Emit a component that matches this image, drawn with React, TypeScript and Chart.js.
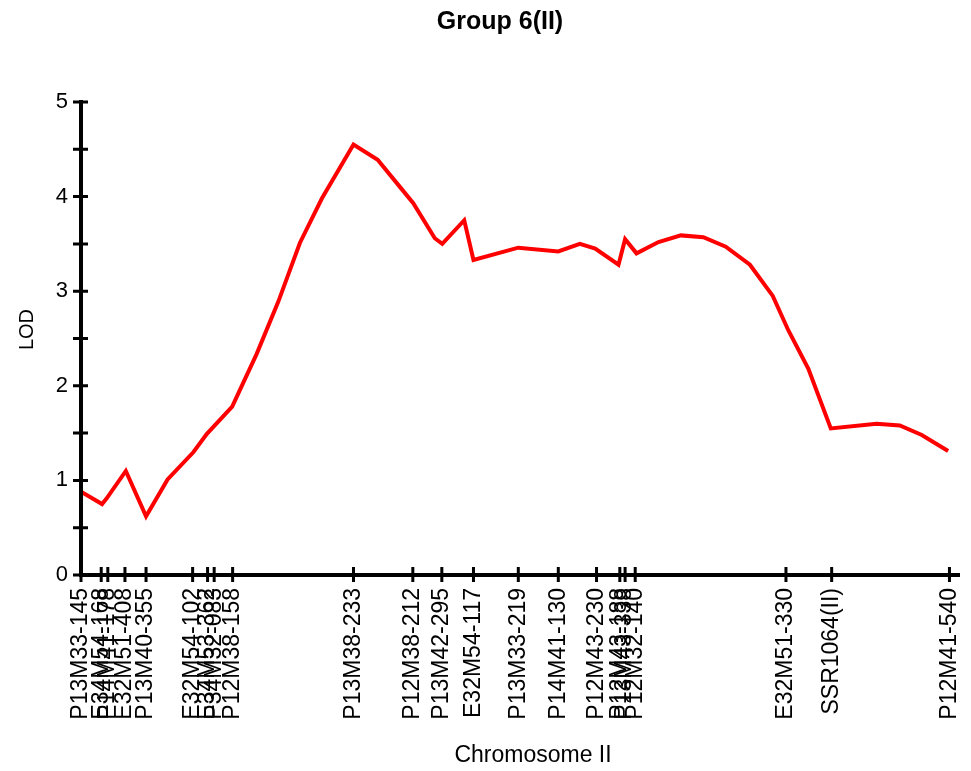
import React, { useEffect, useRef } from 'react';
import { Chart, registerables } from 'chart.js';

Chart.register(...registerables);

const chartTitle = 'Group 6(II)';
const xTitle = 'Chromosome II';
const yTitle = 'LOD';

const markerNames = [
  'P13M33-145', 'E34M54-168', 'P14M41-178', 'E32M51-408', 'P13M40-355',
  'E32M54-102', 'E34M53-362', 'P34M32-083', 'P12M38-158', 'P13M38-233',
  'P12M38-212', 'P13M42-295', 'E32M54-117', 'P13M33-219', 'P14M41-130',
  'P12M43-230', 'P12M43-188', 'P13M43-338', 'P12M32-140', 'E32M51-330',
  'SSR1064(II)', 'P12M41-540',
];
const markerPositions = [
  0, 4.6, 6.1, 10.0, 14.8,
  25.4, 28.8, 30.3, 34.5, 62.0,
  75.5, 82.1, 89.3, 99.5, 108.6,
  117.3, 122.6, 123.8, 126.1, 160.4,
  170.8, 197.6,
];

const curvePositions = [
  0, 4.8, 5.85, 10.2, 14.8, 19.7, 25.6, 28.6, 34.4, 40.0,
  44.9, 49.8, 54.8, 62.0, 67.5, 72.6, 75.6, 80.5, 82.2, 87.2,
  89.3, 99.5, 108.6, 113.5, 117.0, 122.3, 123.8, 126.4, 131.4, 136.5,
  141.6, 146.7, 152.2, 157.4, 160.9, 165.5, 170.6, 181.0, 186.3, 191.3,
  197.3,
];
const lodValues = [
  0.88, 0.75, 0.81, 1.10, 0.62, 1.01, 1.30, 1.49, 1.78, 2.34,
  2.89, 3.51, 3.98, 4.55, 4.39, 4.10, 3.93, 3.56, 3.50, 3.75,
  3.33, 3.46, 3.42, 3.50, 3.45, 3.28, 3.55, 3.40, 3.52, 3.59,
  3.57, 3.47, 3.28, 2.95, 2.59, 2.18, 1.55, 1.60, 1.58, 1.48,
  1.31,
];

const xMin = 0;
const xMax = 200;
const yMin = 0;
const yMax = 5;
const yStep = 0.5;

const FONT = '"Liberation Sans", Arial, sans-serif';

const axesPlugin = {
  id: 'axesAndTitles',
  afterDatasetsDraw(chart: any) {
    const { ctx, chartArea: a, scales } = chart;
    const x = scales.x;
    const y = scales.y;
    ctx.save();
    ctx.strokeStyle = '#000';
    ctx.lineCap = 'butt';
    ctx.lineWidth = 4;
    ctx.beginPath();
    ctx.moveTo(a.left, a.top - 2);
    ctx.lineTo(a.left, a.bottom + 2);
    ctx.moveTo(a.left - 2, a.bottom);
    ctx.lineTo(a.right, a.bottom);
    ctx.stroke();
    ctx.lineWidth = 3;
    ctx.beginPath();
    y.ticks.forEach((t: any) => {
      const py = y.getPixelForValue(t.value);
      ctx.moveTo(a.left - 8, py);
      ctx.lineTo(a.left + 7, py);
    });
    x.ticks.forEach((t: any) => {
      const px = x.getPixelForValue(t.value);
      ctx.moveTo(px, a.bottom - 8);
      ctx.lineTo(px, a.bottom + 7);
    });
    ctx.stroke();

    ctx.fillStyle = '#000';
    ctx.textAlign = 'center';
    ctx.textBaseline = 'alphabetic';
    ctx.font = `bold 25px ${FONT}`;
    ctx.fillText(chartTitle, 500, 29);
    ctx.font = `23px ${FONT}`;
    ctx.fillText(xTitle, 533, 762);
    ctx.translate(27, (a.top + a.bottom) / 2 - 9);
    ctx.rotate(-Math.PI / 2);
    ctx.textBaseline = 'middle';
    ctx.font = `20px ${FONT}`;
    ctx.fillText(yTitle, 0, 0);
    ctx.restore();
  },
};

export default function App() {
  const canvasRef = useRef<HTMLCanvasElement | null>(null);

  useEffect(() => {
    if (!canvasRef.current) return;
    const chart = new Chart(canvasRef.current, {
      type: 'line',
      data: {
        datasets: [
          {
            data: curvePositions.map((cx, i) => ({ x: cx, y: lodValues[i] })),
            borderColor: '#ff0000',
            backgroundColor: '#ff0000',
            borderWidth: 4,
            pointRadius: 0,
            tension: 0,
            fill: false,
          },
        ],
      },
      options: {
        animation: false,
        responsive: true,
        maintainAspectRatio: false,
        layout: { padding: { top: 102, right: 11, left: 0, bottom: 0 } },
        plugins: {
          legend: { display: false },
          tooltip: { enabled: false },
          title: { display: false },
        },
        scales: {
          x: {
            type: 'linear',
            min: xMin,
            max: xMax,
            border: { display: false },
            grid: { display: false, drawTicks: true, tickLength: 8 },
            afterBuildTicks: (s: any) => {
              s.ticks = markerPositions.map((v) => ({ value: v }));
            },
            afterFit: (s: any) => {
              s.height = 196;
              s.paddingLeft = 0;
              s.paddingRight = 0;
            },
            ticks: {
              autoSkip: false,
              maxRotation: 90,
              minRotation: 90,
              padding: 5,
              color: '#000',
              font: { family: FONT, size: 23 },
              callback: (_v: any, i: number) => markerNames[i],
            },
          },
          y: {
            type: 'linear',
            min: yMin,
            max: yMax,
            border: { display: false },
            grid: { display: false, drawTicks: true, tickLength: 8 },
            afterFit: (s: any) => {
              s.width = 81;
              s.paddingTop = 0;
              s.paddingBottom = 0;
            },
            ticks: {
              stepSize: yStep,
              padding: 5,
              color: '#000',
              font: { family: FONT, size: 22 },
              callback: (v: any) => (Number.isInteger(v) ? String(v) : ''),
            },
          },
        },
      },
      plugins: [axesPlugin],
    } as any);
    return () => chart.destroy();
  }, []);

  return (
    <div style={{ position: 'fixed', left: 0, top: 0, width: 971, height: 771, background: '#fff' }}>
      <canvas ref={canvasRef} />
    </div>
  );
}
